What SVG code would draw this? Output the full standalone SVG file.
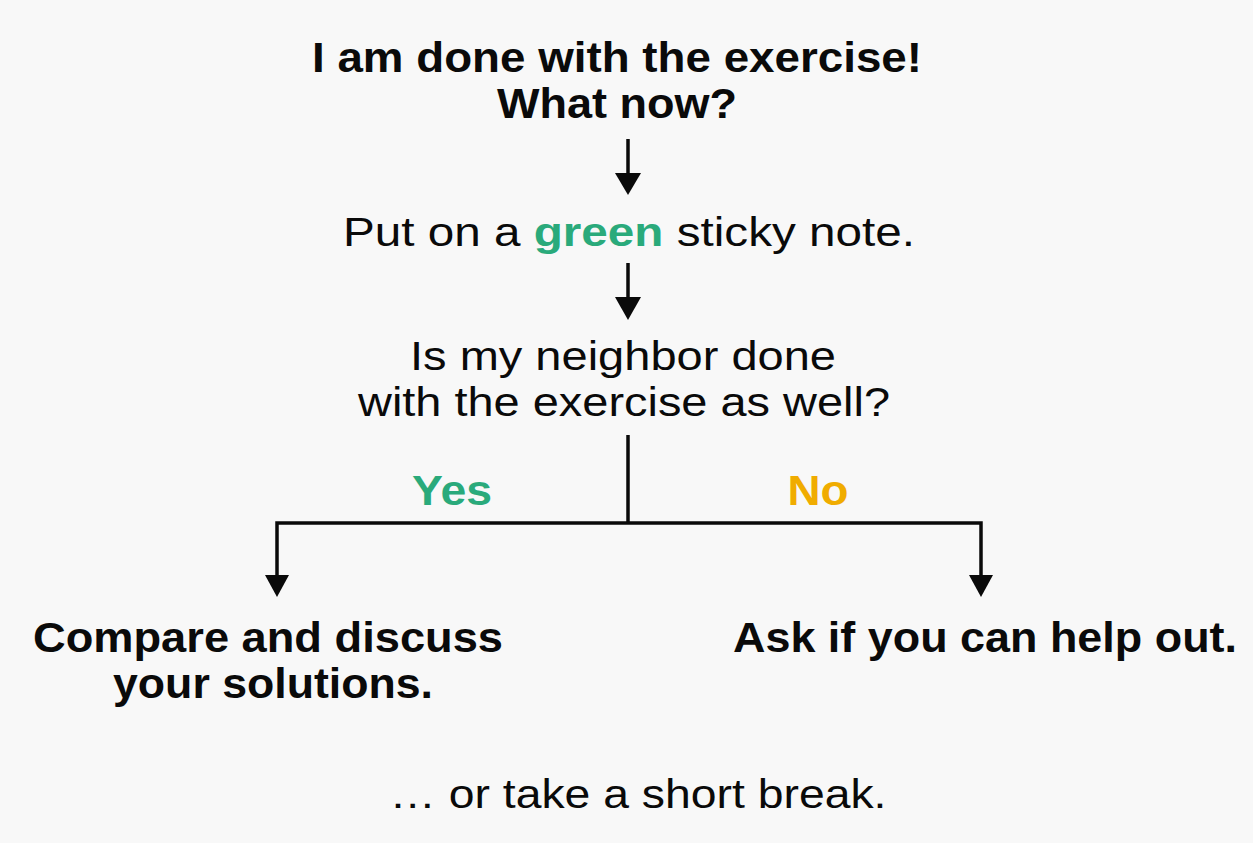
<svg xmlns="http://www.w3.org/2000/svg" width="1253" height="843" viewBox="0 0 1253 843">
<style>
text{font-family:"Liberation Sans",Arial,sans-serif;fill:#0a0a0a;text-anchor:middle}
.b{font-weight:bold}
.t{font-size:43px}
.r{font-size:41px}
.g{fill:#2aaa7b}
.y{fill:#f0ac00}
.ln{stroke:#0a0a0a;stroke-width:3.5;fill:none}
.ah{fill:#0a0a0a}
</style>
<rect width="1253" height="843" fill="#f8f8f8"/>
<g id="connectors">
<line class="ln" x1="628" y1="139" x2="628" y2="176"/>
<path class="ah" d="M615,173 L641,173 L628,195 Z"/>
<line class="ln" x1="628" y1="263" x2="628" y2="300"/>
<path class="ah" d="M615,297 L641,297 L628,320 Z"/>
<polyline class="ln" points="628,435 628,523"/>
<polyline class="ln" points="277,578 277,523 981,523 981,578"/>
<path class="ah" d="M265,575 L289,575 L277,597 Z"/>
<path class="ah" d="M969,575 L993,575 L981,597 Z"/>
</g>
<g id="start">
<text class="b t" x="617" y="72" textLength="610" lengthAdjust="spacingAndGlyphs">I am done with the exercise!</text>
<text class="b t" x="617" y="118" textLength="240" lengthAdjust="spacingAndGlyphs">What now?</text>
</g>
<g id="sticky">
<text class="r" x="629" y="246" textLength="572" lengthAdjust="spacingAndGlyphs">Put on a <tspan class="b g">green</tspan> sticky note.</text>
</g>
<g id="question">
<text class="r" x="623" y="370" textLength="426" lengthAdjust="spacingAndGlyphs">Is my neighbor done</text>
<text class="r" x="624" y="416" textLength="532" lengthAdjust="spacingAndGlyphs">with the exercise as well?</text>
</g>
<g id="labels">
<text class="b t g" x="452" y="505" textLength="80" lengthAdjust="spacingAndGlyphs">Yes</text>
<text class="b t y" x="818" y="505" textLength="61" lengthAdjust="spacingAndGlyphs">No</text>
</g>
<g id="yes-node">
<text class="b t" x="268" y="652" textLength="470" lengthAdjust="spacingAndGlyphs">Compare and discuss</text>
<text class="b t" x="273" y="698" textLength="320" lengthAdjust="spacingAndGlyphs">your solutions.</text>
</g>
<g id="no-node">
<text class="b t" x="985" y="652" textLength="504" lengthAdjust="spacingAndGlyphs">Ask if you can help out.</text>
</g>
<g id="footer">
<text class="r" x="638" y="808" textLength="497" lengthAdjust="spacingAndGlyphs">… or take a short break.</text>
</g>
</svg>
